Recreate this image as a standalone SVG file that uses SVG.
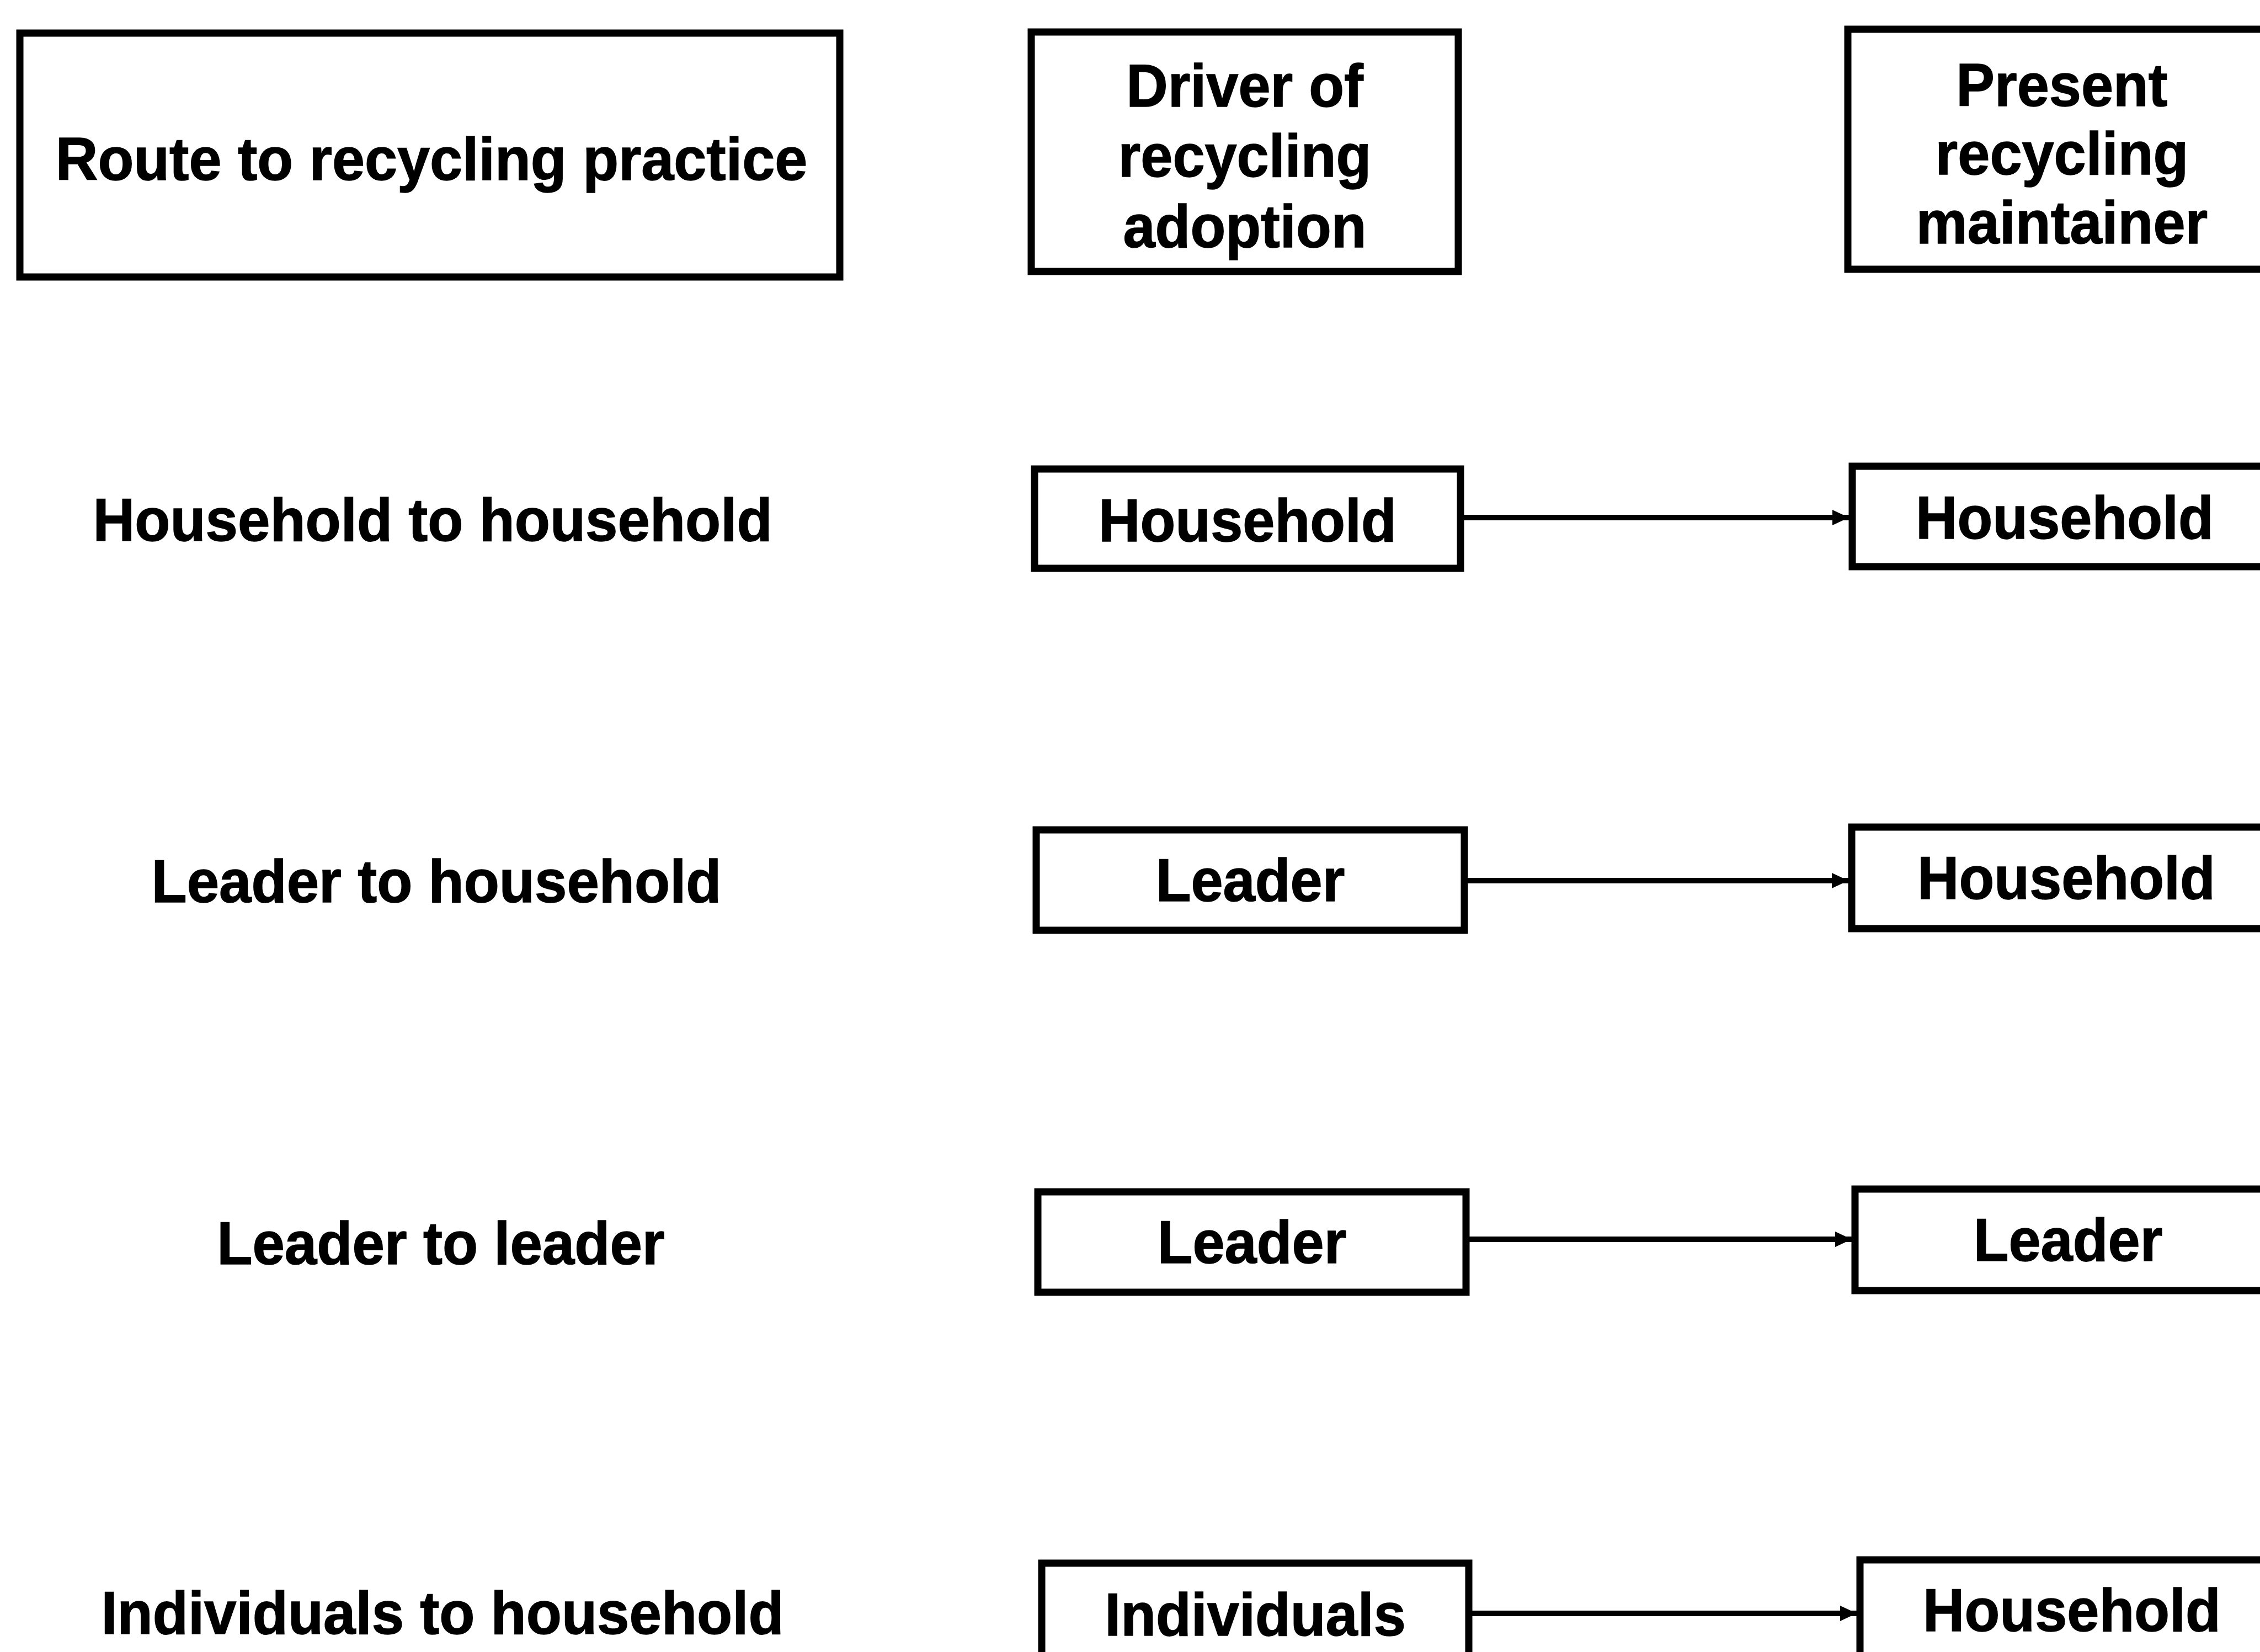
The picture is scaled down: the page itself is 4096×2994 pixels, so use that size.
<svg xmlns="http://www.w3.org/2000/svg" width="4096" height="2994" viewBox="0 0 4096 2994">
  <style>
    .box { fill: #ffffff; stroke: #000000; stroke-width: 13; }
    .lbl { font-family: "Liberation Sans", Arial, sans-serif; font-weight: bold; font-size: 110px; fill: #000000; text-anchor: middle; stroke: #000000; stroke-width: 1.5; }
    .conn { stroke: #000000; stroke-width: 10; fill: none; }
  </style>
  <defs>
    <marker id="arrow" markerUnits="userSpaceOnUse" markerWidth="34" markerHeight="34" refX="30" refY="17" orient="auto">
      <path d="M0,3 L30,17 L0,31 Z" fill="#000000"/>
    </marker>
  </defs>
  <rect width="4096" height="2994" fill="#ffffff"/>

  <!-- column headers -->
  <g id="header-route">
    <rect class="box" x="36" y="60" width="1486" height="442"/>
    <text class="lbl" transform="translate(782,326) scale(0.965,1)">Route to recycling practice</text>
  </g>
  <g id="header-driver">
    <rect class="box" x="1869" y="58" width="774" height="434"/>
    <text class="lbl" transform="translate(2256,193) scale(0.95,1)">Driver of</text>
    <text class="lbl" transform="translate(2256,320) scale(0.95,1)">recycling</text>
    <text class="lbl" transform="translate(2256,448) scale(0.95,1)">adoption</text>
  </g>
  <g id="header-maintainer">
    <rect class="box" x="3349" y="53" width="800" height="435"/>
    <text class="lbl" transform="translate(3737,192) scale(0.95,1)">Present</text>
    <text class="lbl" transform="translate(3737,316) scale(0.95,1)">recycling</text>
    <text class="lbl" transform="translate(3737,441) scale(0.95,1)">maintainer</text>
  </g>

  <!-- row labels -->
  <g id="route-1"><text class="lbl" transform="translate(784,980) scale(0.955,1)">Household to household</text></g>
  <g id="route-2"><text class="lbl" transform="translate(791,1635) scale(0.955,1)">Leader to household</text></g>
  <g id="route-3"><text class="lbl" transform="translate(799,2291) scale(0.955,1)">Leader to leader</text></g>
  <g id="route-4"><text class="lbl" transform="translate(802,2961) scale(0.955,1)">Individuals to household</text></g>

  <!-- drivers -->
  <g id="driver-1">
    <rect class="box" x="1875" y="850" width="772" height="180"/>
    <text class="lbl" transform="translate(2261,981) scale(0.95,1)">Household</text>
  </g>
  <g id="driver-2">
    <rect class="box" x="1878" y="1504" width="776" height="182"/>
    <text class="lbl" transform="translate(2266,1633) scale(0.95,1)">Leader</text>
  </g>
  <g id="driver-3">
    <rect class="box" x="1881" y="2160" width="776" height="182"/>
    <text class="lbl" transform="translate(2269,2289) scale(0.95,1)">Leader</text>
  </g>
  <g id="driver-4">
    <rect class="box" x="1888" y="2833" width="774" height="200"/>
    <text class="lbl" transform="translate(2275,2964) scale(0.95,1)">Individuals</text>
  </g>

  <!-- maintainers -->
  <g id="maintainer-1">
    <rect class="box" x="3357" y="845" width="800" height="182"/>
    <text class="lbl" transform="translate(3742,976) scale(0.95,1)">Household</text>
  </g>
  <g id="maintainer-2">
    <rect class="box" x="3356" y="1499" width="800" height="184"/>
    <text class="lbl" transform="translate(3745,1629) scale(0.95,1)">Household</text>
  </g>
  <g id="maintainer-3">
    <rect class="box" x="3362" y="2155" width="800" height="184"/>
    <text class="lbl" transform="translate(3748,2285) scale(0.95,1)">Leader</text>
  </g>
  <g id="maintainer-4">
    <rect class="box" x="3371" y="2827" width="800" height="200"/>
    <text class="lbl" transform="translate(3755,2956) scale(0.95,1)">Household</text>
  </g>

  <!-- connectors -->
  <g id="connectors">
    <path class="conn" d="M2653,938 L3351,938" marker-end="url(#arrow)"/>
    <path class="conn" d="M2660,1596 L3350,1596" marker-end="url(#arrow)"/>
    <path class="conn" d="M2663,2246 L3356,2246" marker-end="url(#arrow)"/>
    <path class="conn" d="M2668,2924 L3365,2924" marker-end="url(#arrow)"/>
  </g>
</svg>
